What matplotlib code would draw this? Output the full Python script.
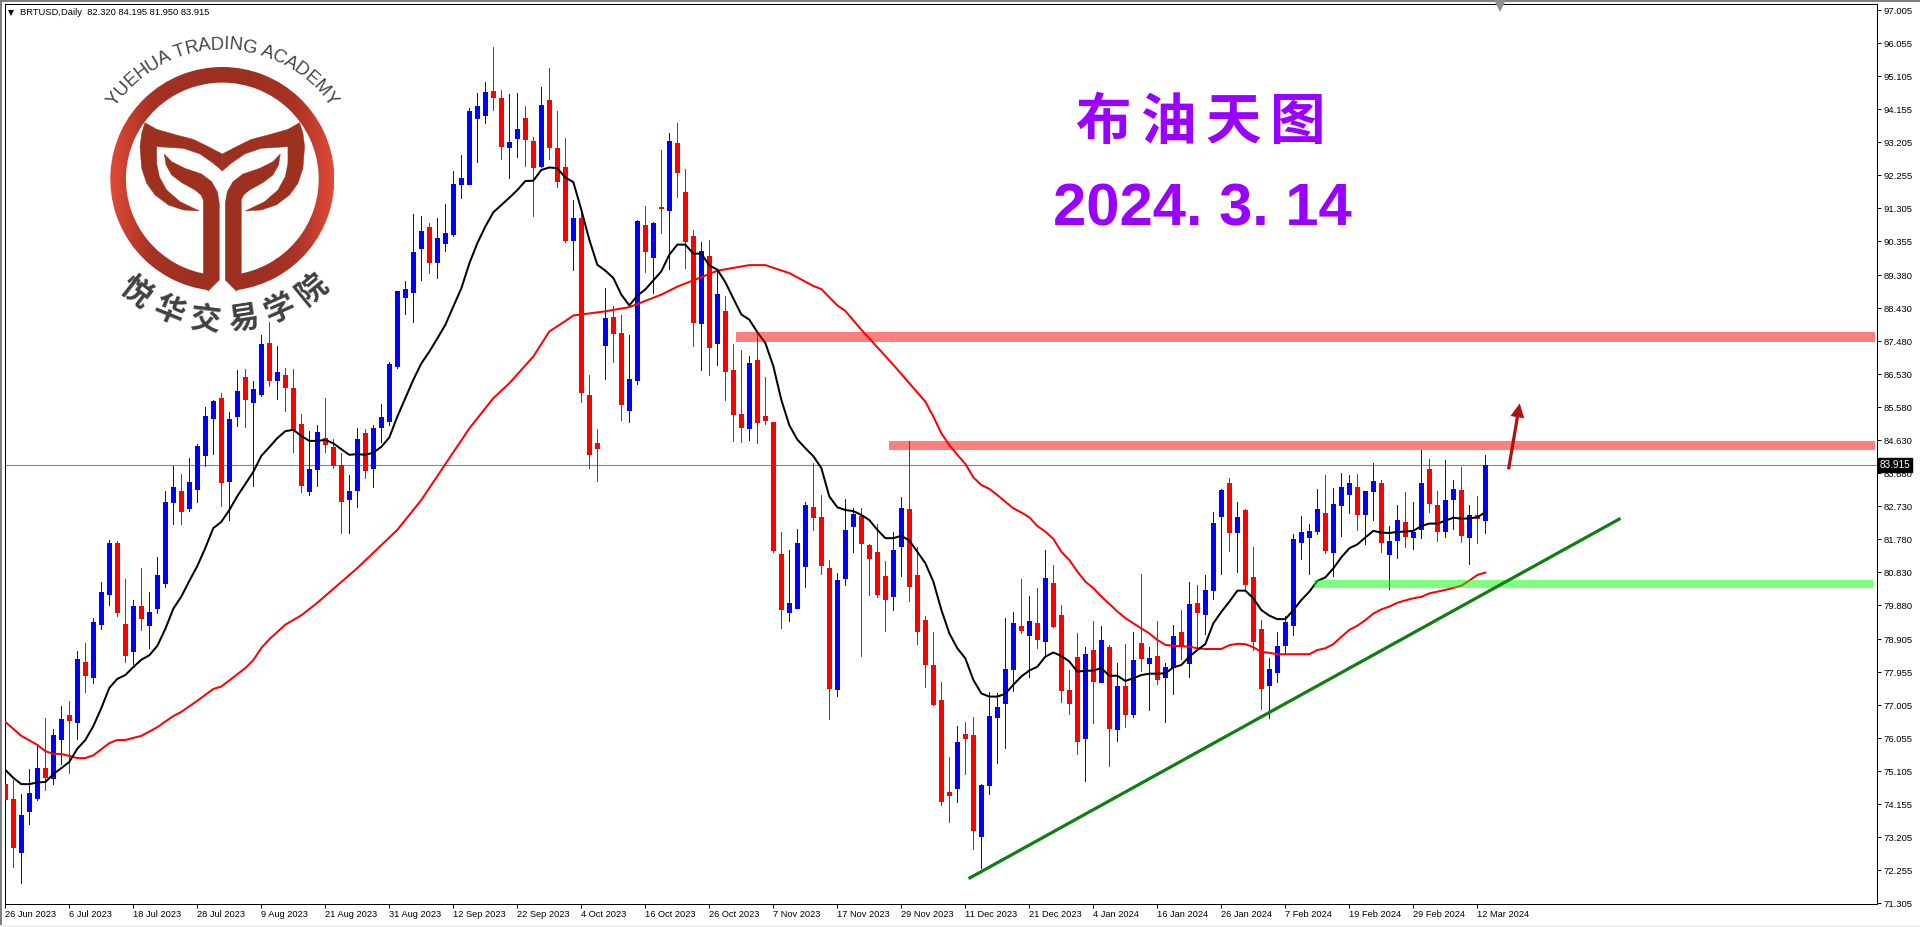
import numpy as np
import matplotlib
matplotlib.use('Agg')
import matplotlib.pyplot as plt
from matplotlib.colors import LinearSegmentedColormap
from matplotlib.font_manager import FontProperties
from matplotlib.patches import Polygon, Rectangle, Wedge
from matplotlib.textpath import TextToPath

# daily candles
opens = [74.73,74.30,72.78,73.95,74.33,75.19,74.91,76.02,76.71,76.52,78.25,77.81,79.34,80.21,81.67,79.34,78.56,79.86,79.31,79.80,
         80.52,82.85,83.16,82.68,83.22,84.20,85.27,85.84,83.45,85.33,86.44,85.73,85.96,87.42,86.36,86.50,86.13,85.10,83.16,83.79,
         84.68,84.43,83.92,82.94,83.20,84.83,83.84,85.02,85.18,86.77,88.76,88.91,90.15,90.76,89.77,90.32,90.57,92.01,92.01,93.91,
         93.99,94.68,94.47,93.07,93.33,93.90,93.24,92.52,94.42,93.04,92.49,90.39,91.03,85.93,84.54,87.38,88.17,87.72,85.51,86.36,
         90.82,89.89,91.33,91.27,93.19,91.77,90.51,88.01,89.93,87.43,88.35,86.65,85.39,84.98,86.94,85.33,85.15,81.35,79.68,79.80,
         81.00,82.70,82.41,80.95,77.47,80.67,82.16,82.46,81.61,81.41,80.72,80.15,81.59,82.65,80.75,79.46,78.15,77.15,74.50,74.62,
         76.17,76.14,73.24,74.71,76.66,77.07,78.05,79.28,79.02,79.37,78.85,80.52,79.60,77.44,78.39,76.06,78.59,77.67,78.68,76.32,
         77.56,76.75,78.79,78.22,78.42,77.81,78.10,79.11,78.22,79.94,79.63,80.32,82.45,83.40,81.99,82.62,80.69,79.19,77.58,77.96,
         78.73,79.31,81.70,81.84,82.01,82.53,81.41,82.76,83.08,83.28,82.51,83.17,83.40,81.35,81.76,82.27,81.84,82.07,83.80,82.76,
         82.01,82.94,83.20,81.84,82.48,82.32]
closes = [74.30,72.91,73.83,74.47,75.19,74.93,76.14,76.60,76.58,78.33,77.87,79.40,80.26,81.67,79.69,78.44,79.86,79.51,79.69,80.75,
          82.85,83.28,82.59,83.43,84.46,85.33,85.75,83.43,85.24,86.04,85.81,86.10,87.40,86.36,86.59,86.16,84.95,83.34,83.79,84.87,
          84.52,83.92,82.88,83.17,84.66,83.77,84.97,85.29,86.82,88.93,88.97,90.05,90.65,89.77,90.44,90.59,92.01,92.17,94.11,94.25,
          94.64,94.52,93.10,93.21,93.59,93.30,92.49,94.28,93.07,92.09,90.39,91.03,86.02,84.23,84.42,88.15,87.72,85.67,86.39,90.94,
          90.07,90.89,91.30,93.24,92.35,90.36,88.03,90.07,87.31,88.84,86.62,85.39,85.00,86.86,85.15,85.21,81.47,79.78,79.95,81.67,
          82.76,82.41,81.04,77.50,80.62,82.05,82.51,81.68,81.25,80.21,80.06,81.47,82.68,80.43,79.15,78.19,77.04,74.25,74.42,75.94,
          76.06,73.41,74.71,76.69,76.95,78.05,79.37,79.17,79.43,78.91,80.66,79.28,77.44,77.07,75.97,78.48,77.70,78.88,76.35,77.56,
          76.75,78.30,78.36,78.36,77.76,78.10,78.99,78.70,79.91,79.68,80.32,82.25,83.20,81.99,82.42,80.49,78.85,77.50,78.04,78.70,
          79.40,81.79,81.99,82.01,82.65,81.47,82.79,83.28,83.40,82.51,83.17,83.46,81.70,81.73,82.33,81.87,81.99,83.40,82.82,82.01,
          82.91,83.22,81.90,82.48,82.40,83.915]
highs = [74.87,74.85,74.45,75.16,75.83,76.63,76.31,76.98,77.12,78.56,78.79,79.51,80.55,81.76,81.73,80.63,80.03,80.95,80.26,81.26,
         83.16,83.89,83.66,84.12,84.52,85.58,85.79,85.98,85.44,86.65,86.67,86.33,87.65,88.03,87.34,86.71,86.67,85.39,84.89,85.06,
         85.84,84.66,84.25,83.63,84.97,84.95,85.07,85.67,86.87,88.93,89.21,91.13,91.08,90.87,91.02,91.43,92.38,92.84,94.19,94.62,
         94.93,95.94,94.71,94.60,94.62,94.25,93.35,94.79,95.33,94.11,93.33,91.55,91.24,86.51,84.95,89.00,88.48,88.22,87.66,90.96,
         91.37,90.90,92.98,93.48,93.75,92.44,90.67,90.33,90.39,89.49,88.77,87.40,87.22,87.05,87.74,86.44,85.15,81.98,81.47,82.08,
         82.84,83.98,83.06,81.18,80.80,82.93,82.67,82.69,81.64,82.22,81.15,81.99,82.99,84.61,81.56,79.57,79.11,77.66,75.50,76.40,
         76.53,76.66,74.73,77.37,77.35,79.51,79.69,80.63,80.15,80.38,81.47,81.04,79.89,78.02,79.08,78.68,79.43,79.28,78.74,78.22,
         78.77,79.11,80.78,78.68,79.42,78.21,79.31,79.74,80.55,80.46,80.75,82.56,83.22,83.54,82.85,82.65,81.56,79.45,78.36,79.11,
         79.57,81.93,82.45,82.22,83.22,83.63,83.25,83.69,83.63,83.66,83.17,83.97,83.48,82.16,82.76,83.14,82.85,84.35,84.09,83.17,
         84.06,83.48,83.86,82.76,83.02,84.195]
lows = [73.44,72.34,71.88,73.58,74.27,74.56,74.73,75.31,75.04,76.02,77.38,77.64,79.19,79.88,79.57,78.25,78.19,79.17,78.65,79.65,
        80.40,82.22,82.22,82.59,82.85,83.89,84.23,82.74,82.33,85.04,85.00,83.31,85.90,86.19,85.81,85.47,84.29,83.14,83.05,83.31,
        84.30,83.84,81.96,81.96,82.72,83.55,83.29,84.57,85.07,86.72,88.27,88.04,89.24,89.45,89.29,90.09,90.52,91.61,92.01,92.65,
        93.77,94.14,92.73,92.19,92.78,92.52,91.07,92.49,92.73,91.93,90.34,89.53,85.73,83.84,83.47,86.40,86.89,85.22,85.15,86.25,
        89.47,88.87,90.60,89.56,91.63,89.59,87.34,86.66,86.50,86.79,85.79,84.60,84.57,84.64,84.55,85.11,81.41,79.21,79.43,79.80,
        80.41,82.05,80.78,76.60,77.27,80.46,81.41,78.42,80.17,80.13,79.15,79.73,80.72,80.00,78.77,77.54,77.01,74.13,73.65,74.23,
        75.02,72.87,72.31,74.45,75.35,75.78,77.41,79.09,77.82,78.65,78.40,79.25,77.10,76.75,75.60,74.82,76.49,77.67,75.25,75.97,
        76.38,76.66,77.99,76.86,77.61,76.52,77.33,78.33,77.81,78.59,79.05,80.06,80.78,81.44,80.83,80.32,78.59,76.89,76.64,77.67,
        78.47,79.02,81.21,80.78,81.93,81.38,80.72,81.87,82.53,82.05,81.64,82.33,81.41,80.35,81.24,81.56,81.50,81.81,82.56,81.73,
        81.84,82.07,81.70,81.06,81.68,81.95]

# black moving average, one value per bar
ma_fast = [75.14,74.91,74.73,74.73,74.78,74.79,75.02,75.19,75.37,75.75,76.00,76.40,76.92,77.50,77.76,77.87,78.10,78.31,78.44,78.71,
           79.20,79.78,80.13,80.58,81.01,81.53,82.10,82.28,82.62,83.02,83.37,83.72,84.18,84.43,84.69,84.89,84.93,84.75,84.61,84.61,
           84.64,84.54,84.37,84.21,84.23,84.21,84.27,84.44,84.71,85.31,85.84,86.37,86.84,87.18,87.56,87.95,88.48,89.00,89.72,90.30,
           90.78,91.19,91.40,91.61,91.83,92.09,92.10,92.41,92.48,92.46,92.19,92.06,91.26,90.40,89.68,89.51,89.30,88.82,88.51,88.79,
           88.97,89.23,89.49,89.97,90.26,90.26,90.00,90.00,89.66,89.54,89.18,88.71,88.25,88.10,87.74,87.43,86.76,85.79,85.06,84.65,
           84.40,84.17,83.83,83.01,82.70,82.62,82.59,82.48,82.33,82.05,81.81,81.81,81.88,81.74,81.42,81.09,80.56,79.75,79.07,78.64,
           78.35,77.73,77.34,77.25,77.25,77.33,77.59,77.83,78.00,78.11,78.40,78.52,78.42,78.26,77.97,77.99,78.00,78.07,77.85,77.85,
           77.70,77.78,77.87,77.91,77.91,77.92,78.09,78.16,78.40,78.59,78.76,79.36,79.69,79.98,80.30,80.30,80.08,79.74,79.58,79.48,
           79.48,79.74,80.03,80.27,80.58,80.68,80.94,81.26,81.52,81.63,81.83,82.02,81.97,81.96,81.99,82.00,82.02,82.16,82.23,82.23,
           82.31,82.40,82.37,82.38,82.41,82.56]

# red moving average, read at these bars
ma_slow_bars = [0,2,4,5,6,7,9,10,11,13,14,15,17,19,21,22,24,26,27,30,31,32,33,35,37,39,44,49,52,55,58,61,63,66,68,70,71,73,75,78,
                82,84,86,89,93,95,98,101,102,104,105,107,111,115,116,117,118,119,120,121,122,123,124,125,126,127,128,129,130,131,132,133,134,135,
                136,137,138,139,140,141,142,143,144,145,146,147,148,149,150,152,153,154,155,156,157,158,159,163,164,165,166,167,168,169,170,171,172,173,
                174,175,176,177,178,179,180,181,182,183,184,185]
ma_slow = [76.52,76.12,75.86,75.68,75.60,75.60,75.48,75.48,75.56,75.91,76.00,76.00,76.12,76.37,76.69,76.81,77.13,77.47,77.54,78.07,78.30,78.65,78.90,79.32,79.59,79.95,80.95,82.05,82.91,83.94,84.97,85.84,86.27,87.04,87.76,88.06,88.22,88.28,88.34,88.46,
           88.82,89.05,89.23,89.51,89.67,89.67,89.44,89.07,88.98,88.51,88.35,87.81,86.80,85.74,85.31,84.83,84.49,84.21,83.95,83.56,83.34,83.23,83.05,82.86,82.67,82.55,82.41,82.16,82.00,81.79,81.42,81.18,80.85,80.56,
           80.37,80.13,79.92,79.70,79.51,79.36,79.21,79.07,78.88,78.74,78.71,78.70,78.69,78.64,78.62,78.62,78.73,78.77,78.76,78.67,78.54,78.51,78.47,78.47,78.59,78.64,78.76,78.97,79.17,79.29,79.45,79.64,79.76,79.84,
           79.95,80.02,80.08,80.12,80.22,80.27,80.32,80.38,80.44,80.59,80.75,80.82]

last_price = 83.915
header = 'BRTUSD,Daily  82.320 84.195 81.950 83.915'
title_cn = '布油天图'
title_date = '2024. 3. 14'
logo_en = 'YUEHUA TRADING ACADEMY'
logo_cn = '悦华交易学院'

date_labels = ['26 Jun 2023','6 Jul 2023','18 Jul 2023','28 Jul 2023','9 Aug 2023','21 Aug 2023','31 Aug 2023','12 Sep 2023',
               '22 Sep 2023','4 Oct 2023','16 Oct 2023','26 Oct 2023','7 Nov 2023','17 Nov 2023','29 Nov 2023','11 Dec 2023',
               '21 Dec 2023','4 Jan 2024','16 Jan 2024','26 Jan 2024','7 Feb 2024','19 Feb 2024','29 Feb 2024','12 Mar 2024']
price_labels = ['97.005','96.055','95.105','94.155','93.205','92.255','91.305','90.355','89.380','88.430','87.480','86.530','85.580',
                '84.630','83.680','82.730','81.780','80.830','79.880','78.905','77.955','77.005','76.055','75.105','74.155','73.205',
                '72.255','71.305']

# support / resistance bands: first bar, last bar, low, high
band_upper = [91.33, 233.7, 87.46, 87.74]
band_lower = [110.5, 233.7, 84.35, 84.61]
band_green = [163.6, 233.4, 80.38, 80.61]
trend_bars = [120.4, 201.9]
trend_prices = [72.01, 82.38]
arrow_bars = [187.9, 189.3]
arrow_prices = [83.79, 85.69]

W, H = 1920, 927
PX = 72 / 100  # one pixel in points
plt.rcParams['font.family'] = ['Liberation Sans', 'DejaVu Sans']

fig = plt.figure(figsize=(W / 100, H / 100), dpi=100, facecolor='white')
L, R, T, B = 4.7, 1877.0, 4.0, 904.0
ax = fig.add_axes([L / W, 1 - B / H, (R - L) / W, (B - T) / H])

opens_a, closes_a = np.array(opens), np.array(closes)
highs_a, lows_a = np.array(highs), np.array(lows)
bars = np.arange(len(opens))
colors = np.where(closes_a >= opens_a, '#0000ff', '#ff0000')

ax.vlines(bars, lows_a, highs_a, colors=colors, linewidth=PX, antialiased=False, zorder=2)
ax.bar(bars, np.abs(closes_a - opens_a), 0.5, np.minimum(opens_a, closes_a), color=colors, edgecolor=colors,
       linewidth=PX, antialiased=False, zorder=3)

ax.axhline(last_price, color='#778899', linewidth=PX * 1.1, zorder=1)
ax.plot(ma_slow_bars, ma_slow, color='#ff0000', linewidth=PX * 2, zorder=4)
ax.plot(bars, ma_fast, color='black', linewidth=PX * 2, zorder=5)

for band, col in [(band_upper, '#ff0000'), (band_lower, '#ff0000'), (band_green, '#00ff00')]:
    ax.fill_between(band[:2], band[2], band[3], color=col, alpha=0.5, linewidth=0, zorder=6)
ax.plot(trend_bars, trend_prices, color='#0f7f0f', linewidth=PX * 3.2, solid_capstyle='butt', zorder=7)
ax.annotate('', xy=(arrow_bars[1], arrow_prices[1]), xytext=(arrow_bars[0], arrow_prices[0]),
            arrowprops=dict(width=PX * 3.2, headwidth=PX * 14, headlength=PX * 14, color='#b01010', shrink=0, linewidth=0), zorder=8)

ax.set_xlim((L - 5.33) / 8, (R - 5.33) / 8)
ax.set_ylim(97.3015 - B / 34.74, 97.3015 - T / 34.74)
ax.set_xticks(bars[::8][:len(date_labels)])
ax.set_xticklabels(date_labels, ha='left', fontsize=6.7)
ax.set_yticks([float(v) for v in price_labels])
ax.set_yticklabels(price_labels, fontsize=6.8)
ax.tick_params(axis='x', length=3, width=PX, pad=1.2)
ax.tick_params(axis='y', left=False, labelleft=False, right=True, labelright=True, length=3, width=PX, pad=1.5)
for s in ax.spines.values():
    s.set_linewidth(PX)
ax.text(1.0012, last_price, f'{last_price:.3f}', transform=ax.get_yaxis_transform(), color='white', fontsize=7.2,
        va='center', ha='left', bbox=dict(facecolor='black', edgecolor='black', pad=1.2), zorder=10, clip_on=False)

# everything below sits in plain pixel coordinates
ov = fig.add_axes([0, 0, 1, 1], facecolor='none')
ov.set_xlim(0, W)
ov.set_ylim(H, 0)
ov.axis('off')

ov.add_patch(Rectangle((0, 0), W, 1.6, color='#808080', linewidth=0))
ov.add_patch(Rectangle((0, 0), 1.6, H, color='#808080', linewidth=0))
ov.add_patch(Rectangle((0, H - 2), W, 2, color='#f0f0f0', linewidth=0))
ov.plot([11], [12.5], marker='v', color='black', markersize=5, markeredgewidth=0)
ov.plot([1500], [6], marker='v', color='#909090', markersize=9, markeredgewidth=0)
ov.text(20, 12.5, header, fontsize=6.75, va='center', ha='left', color='black')

# title
for k, ch in enumerate(title_cn):
    ov.text(1103 + 65 * k, 123, ch, fontsize=40, color='#9900ff', ha='center', va='center', fontweight='bold',
            family=['Noto Sans CJK SC', 'DejaVu Sans'])
ov.text(1202, 210, title_date, fontsize=43, fontweight='bold', color='#9900ff', ha='center', va='center')

# logo
cx, cy = 222.3, 179.0
ring = Wedge((cx, cy), 112, 97, 443, width=15.6, transform=ov.transData)
shade = LinearSegmentedColormap.from_list('logo', ['#9b2f20', '#a83325', '#e24a37'])
grad = np.abs(np.linspace(-1, 1, 225))[None, :] ** 1.6
im = ov.imshow(grad, extent=(cx - 112, cx + 112, cy + 112, cy - 112), cmap=shade, aspect='auto', zorder=2)
im.set_clip_path(ring)
ov.set_xlim(0, W)
ov.set_ylim(H, 0)

wing = [(435,368),(470,388),(530,405),(580,418),(625,440),(667,462),(667,513),(640,490),(600,462),(550,445),(470,440),(470,490),
        (478,530),(500,570),(540,605),(598,633),(550,630),(505,615),(465,585),(440,550),(425,505),(420,440),(425,400)]
stem = [(493,462),(515,485),(555,505),(605,522),(635,545),(652,575),(658,610),(658,840),(625,873),(610,860),(610,600),(603,585),
        (585,570),(545,548),(515,525),(498,495)]
for shape in (wing, stem):
    pts = np.array(shape) / 3.0
    for side in (pts, np.c_[2 * cx - pts[:, 0], pts[:, 1]]):
        ov.add_patch(Polygon(side, closed=True, facecolor='#9e3020', edgecolor='#9e3020', linewidth=0.3, zorder=2))

fp_en = FontProperties(family='Liberation Sans', size=13.3)
widths = np.array([TextToPath().get_text_width_height_descent(c, fp_en, False)[0] for c in logo_en]) * 100 / 72
r_en = 134.0
pos = (np.cumsum(widths) - widths / 2 - widths.sum() / 2) / r_en
for c, a in zip(logo_en, pos):
    ov.text(cx + r_en * np.sin(a), cy - r_en * np.cos(a), c, fontsize=13.3, color='#444444', rotation=-np.degrees(a),
            rotation_mode='anchor', ha='center', va='center', zorder=3)

r_cn = 142.0
for k, c in enumerate(logo_cn):
    a = np.radians(0.8 + 15.4 * (k - 2.5))
    ov.text(cx + r_cn * np.sin(a), cy + r_cn * np.cos(a), c, fontsize=22, color='#404040', fontweight='bold',
            rotation=np.degrees(a), rotation_mode='anchor', ha='center', va='center', zorder=3,
            family=['Noto Sans CJK SC', 'DejaVu Sans'])

fig.savefig('out.png', dpi=100)
